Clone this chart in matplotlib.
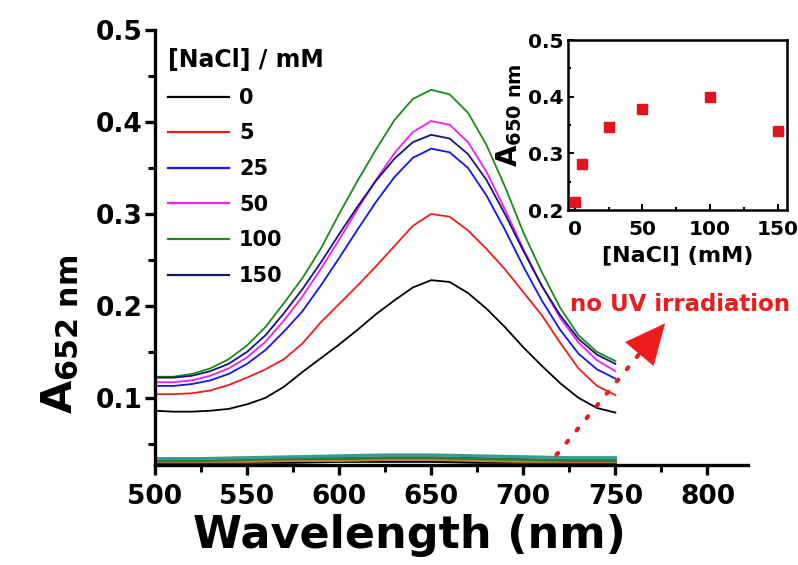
import matplotlib.pyplot as plt
from matplotlib.ticker import MultipleLocator

plt.rcParams['font.family'] = 'DejaVu Sans'
plt.rcParams['font.weight'] = 'bold'
plt.rcParams['mathtext.fontset'] = 'dejavusans'

# spectra with UV irradiation, read every 10 nm
wavelength = list(range(500, 751, 10))
a_0 = [0.086, 0.085, 0.085, 0.086, 0.088, 0.093, 0.100, 0.112, 0.128, 0.143, 0.158, 0.174, 0.191,
       0.206, 0.220, 0.228, 0.226, 0.214, 0.197, 0.177, 0.155, 0.135, 0.116, 0.100, 0.089, 0.084]
a_5 = [0.104, 0.104, 0.105, 0.108, 0.114, 0.122, 0.131, 0.142, 0.159, 0.182, 0.202, 0.222, 0.243,
       0.265, 0.287, 0.300, 0.297, 0.282, 0.262, 0.240, 0.215, 0.190, 0.160, 0.132, 0.113, 0.103]
a_25 = [0.113, 0.113, 0.115, 0.119, 0.126, 0.137, 0.152, 0.172, 0.194, 0.222, 0.252, 0.283, 0.313,
        0.340, 0.361, 0.371, 0.367, 0.350, 0.320, 0.283, 0.243, 0.206, 0.174, 0.148, 0.131, 0.121]
a_50 = [0.117, 0.117, 0.119, 0.124, 0.132, 0.144, 0.161, 0.184, 0.210, 0.240, 0.272, 0.305, 0.337,
        0.366, 0.389, 0.401, 0.397, 0.378, 0.346, 0.305, 0.262, 0.222, 0.187, 0.160, 0.141, 0.129]
a_100 = [0.123, 0.123, 0.126, 0.132, 0.142, 0.157, 0.177, 0.203, 0.230, 0.262, 0.300, 0.336, 0.370,
         0.402, 0.425, 0.435, 0.430, 0.410, 0.375, 0.330, 0.280, 0.237, 0.198, 0.168, 0.150, 0.140]
a_150 = [0.122, 0.122, 0.124, 0.129, 0.137, 0.150, 0.168, 0.192, 0.218, 0.247, 0.278, 0.308, 0.336,
         0.360, 0.378, 0.386, 0.382, 0.365, 0.337, 0.300, 0.260, 0.222, 0.190, 0.164, 0.147, 0.137]
series_labels = ['0', '5', '25', '50', '100', '150']
series_colors = ['black', '#ee1c1c', '#1414f0', '#f01ef0', '#1a8a1a', '#14147a']

# spectra without UV irradiation, read every 25 nm
wavelength_dark = list(range(500, 751, 25))
dark_teal = [0.034, 0.034, 0.035, 0.036, 0.037, 0.038, 0.038, 0.037, 0.036, 0.035, 0.035]
dark_green = [0.032, 0.032, 0.033, 0.034, 0.034, 0.035, 0.035, 0.034, 0.033, 0.032, 0.032]
dark_orange = [0.031, 0.031, 0.031, 0.032, 0.032, 0.033, 0.033, 0.032, 0.031, 0.031, 0.031]
dark_black = [0.030, 0.030, 0.030, 0.030, 0.031, 0.031, 0.031, 0.030, 0.030, 0.030, 0.030]

# inset
nacl_mM = [0, 5, 25, 50, 100, 150]
a650 = [0.215, 0.281, 0.347, 0.378, 0.399, 0.339]

fig = plt.figure(figsize=(7.98, 5.65), dpi=100)
ax = fig.add_axes([0.1942, 0.1770, 0.7431, 0.7699])

for vals, col in [(dark_black, 'black'), (dark_orange, '#c8842c'),
                  (dark_green, '#2f7a3a'), (dark_teal, '#3a9a98')]:
    ax.plot(wavelength_dark, vals, color=col, lw=2.2)

for vals, lab, col in zip([a_0, a_5, a_25, a_50, a_100, a_150], series_labels, series_colors):
    ax.plot(wavelength, vals, color=col, lw=1.3, label=lab, solid_joinstyle='round')

ax.set_xlim(500, 822)
ax.set_ylim(0.027, 0.5)
ax.spines['top'].set_visible(False)
ax.spines['right'].set_visible(False)
for s in ['left', 'bottom']:
    ax.spines[s].set_linewidth(2.4)
ax.xaxis.set_major_locator(MultipleLocator(50))
ax.xaxis.set_minor_locator(MultipleLocator(25))
ax.yaxis.set_major_locator(MultipleLocator(0.1))
ax.yaxis.set_minor_locator(MultipleLocator(0.05))
ax.tick_params(which='major', direction='out', length=7, width=2.4, labelsize=19)
ax.tick_params(which='minor', direction='out', length=5, width=2.2)
ax.tick_params(axis='x', pad=7)
ax.tick_params(axis='y', pad=2)
ax.set_yticks([0.1, 0.2, 0.3, 0.4, 0.5])
ax.set_yticklabels(['0.1', '0.2', '0.3', '0.4', '0.5'])

ax.set_xlabel('Wavelength (nm)', fontsize=32, fontweight='bold')
ax.xaxis.set_label_coords(0.43, -0.112)
ax.set_ylabel(r'$\mathbf{A}_{\mathbf{652\ nm}}$', fontsize=31)
ax.yaxis.set_label_coords(-0.125, 0.30)

leg = ax.legend(title='[NaCl] / mM', loc='upper left', bbox_to_anchor=(0.005, 0.982),
                frameon=False, fontsize=15, title_fontsize=17, handlelength=2.9,
                handletextpad=0.5, labelspacing=0.75, borderpad=0, alignment='left')
for line in leg.get_lines():
    line.set_linewidth(1.6)

# "no UV irradiation" annotation
red = '#ee1c1c'
ax.text(785, 0.201, 'no UV irradiation', color=red, fontsize=16.5, fontweight='bold',
        ha='center', va='center')
ax.plot([718, 768], [0.038, 0.160], color=red, lw=3, ls=(0, (0.6, 3.2)),
        dash_capstyle='round')
ax.annotate('', xy=(777, 0.181), xytext=(764, 0.150),
            arrowprops=dict(arrowstyle='-|>,head_length=1.4,head_width=0.65',
                            color=red, lw=0.5, mutation_scale=20, shrinkA=0, shrinkB=0))

# inset
ins = fig.add_axes([0.7118, 0.6283, 0.2744, 0.3009])
ins.plot(nacl_mM, a650, ls='none', marker='s', markersize=7.5, color='#e3141b')
ins.set_xlim(-5, 157)
ins.set_ylim(0.2, 0.5)
for s in ins.spines.values():
    s.set_linewidth(1.8)
ins.xaxis.set_major_locator(MultipleLocator(50))
ins.xaxis.set_minor_locator(MultipleLocator(25))
ins.yaxis.set_major_locator(MultipleLocator(0.1))
ins.yaxis.set_minor_locator(MultipleLocator(0.05))
ins.tick_params(which='both', direction='in', width=1.5, labelsize=14.5)
ins.tick_params(axis='x', pad=7)
ins.tick_params(axis='y', pad=3)
ins.tick_params(which='major', length=4)
ins.tick_params(which='minor', length=2.5)
ins.set_xlabel('[NaCl] (mM)', fontsize=16, fontweight='bold', labelpad=5)
ins.set_ylabel(r'$\mathbf{A}_{\mathbf{650\ nm}}$', fontsize=20)
ins.yaxis.set_label_coords(-0.2, 0.56)

fig.savefig('out.png', dpi=100)
